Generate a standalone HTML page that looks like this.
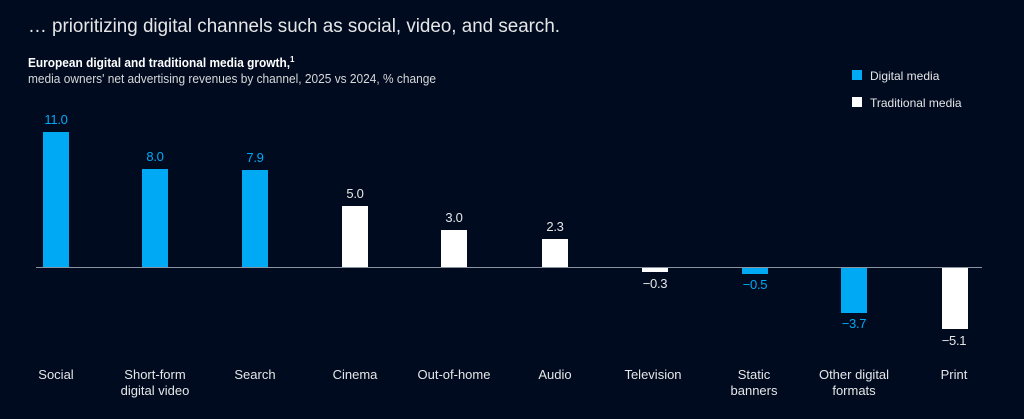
<!DOCTYPE html>
<html><head><meta charset="utf-8"><style>
body{margin:0;background:#000b20;width:1024px;height:414px;overflow:hidden;font-family:"Liberation Sans",Arial,sans-serif}
</style></head><body>
<svg width="1024" height="414" xmlns="http://www.w3.org/2000/svg" font-family="Liberation Sans, Arial, sans-serif">
<rect width="1024" height="414" fill="#000b20"/>
<text x="28" y="32" font-size="19" fill="#e6e6e6" textLength="532" lengthAdjust="spacingAndGlyphs">… prioritizing digital channels such as social, video, and search.</text>
<text x="28" y="67" font-size="13" font-weight="bold" fill="#ffffff" textLength="262" lengthAdjust="spacingAndGlyphs">European digital and traditional media growth,</text>
<text x="290" y="62" font-size="8" font-weight="bold" fill="#ffffff">1</text>
<text x="28" y="83" font-size="13" fill="#d8d8d8" textLength="408" lengthAdjust="spacingAndGlyphs">media owners' net advertising revenues by channel, 2025 vs 2024, % change</text>
<rect x="852" y="70" width="10" height="10" fill="#00a9f4"/>
<text x="870" y="80" font-size="12" fill="#e6e6e6">Digital media</text>
<rect x="852" y="97" width="10" height="10" fill="#ffffff"/>
<text x="870" y="107" font-size="12" fill="#e6e6e6">Traditional media</text>
<line x1="36" y1="267.5" x2="982" y2="267.5" stroke="#8a93a0" stroke-width="1"/>
<g>
<rect x="43" y="132" width="26" height="135" fill="#00a9f4"/>
<rect x="142" y="169" width="26" height="98" fill="#00a9f4"/>
<rect x="242" y="170" width="26" height="97" fill="#00a9f4"/>
<rect x="342" y="206" width="26" height="61" fill="#fff"/>
<rect x="441" y="230" width="26" height="37" fill="#fff"/>
<rect x="542" y="239" width="26" height="28" fill="#fff"/>
<rect x="642" y="268" width="26" height="4" fill="#fff"/>
<rect x="742" y="268" width="26" height="6" fill="#00a9f4"/>
<rect x="841" y="268" width="26" height="45" fill="#00a9f4"/>
<rect x="942" y="268" width="26" height="61" fill="#fff"/>
</g>
<g font-size="13" text-anchor="middle" letter-spacing="-0.3">
<text x="56" y="124" fill="#00a9f4">11.0</text>
<text x="155" y="161" fill="#00a9f4">8.0</text>
<text x="255" y="162" fill="#00a9f4">7.9</text>
<text x="355" y="198" fill="#e6e6e6">5.0</text>
<text x="454" y="222" fill="#e6e6e6">3.0</text>
<text x="555" y="231" fill="#e6e6e6">2.3</text>
<text x="655" y="288" fill="#e6e6e6">−0.3</text>
<text x="755" y="289" fill="#00a9f4">−0.5</text>
<text x="854" y="328" fill="#00a9f4">−3.7</text>
<text x="954" y="345" fill="#e6e6e6">−5.1</text>
</g>
<g font-size="13" text-anchor="middle" fill="#e6e6e6">
<text x="56" y="379">Social</text>
<text x="155" y="379">Short-form</text><text x="155" y="395">digital video</text>
<text x="255" y="379">Search</text>
<text x="355" y="379">Cinema</text>
<text x="454" y="379">Out-of-home</text>
<text x="555" y="379">Audio</text>
<text x="653" y="379">Television</text>
<text x="754" y="379">Static</text><text x="754" y="395">banners</text>
<text x="854" y="379">Other digital</text><text x="854" y="395">formats</text>
<text x="954" y="379">Print</text>
</g>
</svg>
</body></html>
